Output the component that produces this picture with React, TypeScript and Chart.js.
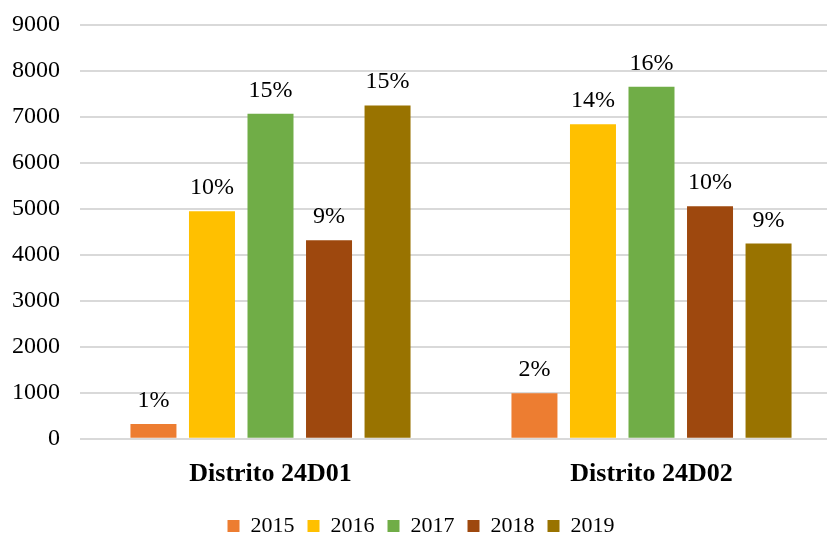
import React, { useEffect, useRef } from "react";
import { Chart, registerables } from "chart.js";

Chart.register(...registerables);

const categories = ["Distrito 24D01", "Distrito 24D02"];
const years = ["2015", "2016", "2017", "2018", "2019"];
const values2015 = [320, 990];
const values2016 = [4950, 6840];
const values2017 = [7070, 7655];
const values2018 = [4320, 5060];
const values2019 = [7250, 4245];
const pct2015 = ["1%", "2%"];
const pct2016 = ["10%", "14%"];
const pct2017 = ["15%", "16%"];
const pct2018 = ["9%", "10%"];
const pct2019 = ["15%", "9%"];
const yTicks = [0, 1000, 2000, 3000, 4000, 5000, 6000, 7000, 8000, 9000];

const colors = ["#ED7D31", "#FFC000", "#70AD47", "#9E480E", "#997300"];
const seriesValues = [values2015, values2016, values2017, values2018, values2019];
const seriesPct = [pct2015, pct2016, pct2017, pct2018, pct2019];

const FONT = "'Liberation Serif', 'Times New Roman', serif";

const labelPlugin = {
  id: "pctLabels",
  afterDatasetsDraw(chart: any) {
    const ctx = chart.ctx;
    ctx.save();
    ctx.font = `24px ${FONT}`;
    ctx.fillStyle = "#000";
    ctx.textAlign = "center";
    ctx.textBaseline = "alphabetic";
    chart.data.datasets.forEach((ds: any, di: number) => {
      const meta = chart.getDatasetMeta(di);
      meta.data.forEach((bar: any, i: number) => {
        const txt = seriesPct[di][i];
        ctx.fillText(txt, bar.x, bar.y - 17);
      });
    });
    ctx.restore();
  },
};

export default function App() {
  const ref = useRef<HTMLCanvasElement>(null);
  useEffect(() => {
    document.body.style.margin = "0";
    const chart = new Chart(ref.current!, {
      type: "bar",
      data: {
        labels: categories,
        datasets: years.map((y, i) => ({
          label: y,
          data: seriesValues[i],
          backgroundColor: colors[i],
          borderWidth: 0,
          categoryPercentage: 0.768,
          barPercentage: 0.786,
        })),
      },
      options: {
        responsive: false,
        animation: false,
        devicePixelRatio: 1,
        layout: { padding: { top: 25, right: 0, left: 0, bottom: -13 } },
        plugins: {
          legend: {
            position: "bottom",
            labels: {
              font: { family: FONT, size: 22 },
              color: "#000",
              boxWidth: 12,
              boxHeight: 12,
              padding: 13,
            },
          },
          tooltip: { enabled: false },
        },
        scales: {
          x: {
            grid: { display: false },
            border: { display: false },
            ticks: {
              font: { family: FONT, size: 26, weight: "bold" },
              color: "#000",
              padding: 12,
            },
          },
          y: {
            min: 0,
            max: 9000,
            afterFit(scale: any) {
              scale.width = 80;
              scale.paddingTop = 0;
              scale.paddingBottom = 0;
            },
            afterBuildTicks(scale: any) {
              scale.ticks = yTicks.map((v) => ({ value: v }));
            },
            grid: { color: "#d9d9d9", lineWidth: 2, drawTicks: false },
            border: { display: false },
            ticks: {
              font: { family: FONT, size: 24 },
              color: "#000",
              padding: 20,
              callback: (v: any) => String(v),
            },
          },
        },
      },
      plugins: [labelPlugin],
    } as any);
    return () => chart.destroy();
  }, []);
  return (
    <div style={{ width: 827, height: 534, overflow: "hidden" }}>
      <canvas ref={ref} width={842} height={534} />
    </div>
  );
}
